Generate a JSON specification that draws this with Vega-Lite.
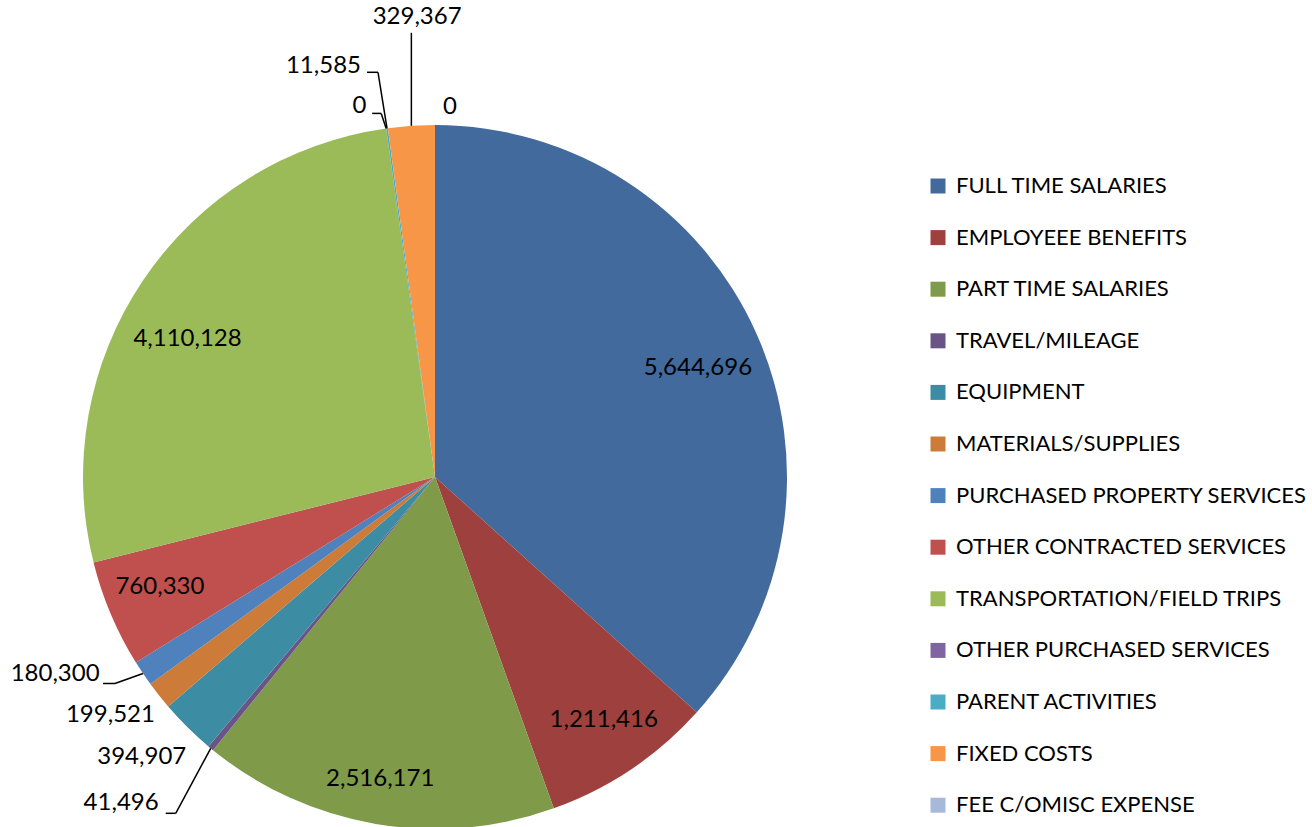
{
  "$schema": "https://vega.github.io/schema/vega-lite/v6.json",
  "width": 870,
  "height": 954,
  "padding": 0,
  "autosize": {"type": "pad"},
  "background": "white",
  "config": {"view": {"stroke": null}, "font": "Lato"},
  "data": {
    "values": [
      {"idx": 1, "category": "FULL TIME SALARIES", "value": 5644696},
      {"idx": 2, "category": "EMPLOYEEE BENEFITS", "value": 1211416},
      {"idx": 3, "category": "PART TIME SALARIES", "value": 2516171},
      {"idx": 4, "category": "TRAVEL/MILEAGE", "value": 41496},
      {"idx": 5, "category": "EQUIPMENT", "value": 394907},
      {"idx": 6, "category": "MATERIALS/SUPPLIES", "value": 199521},
      {"idx": 7, "category": "PURCHASED PROPERTY SERVICES", "value": 180300},
      {"idx": 8, "category": "OTHER CONTRACTED SERVICES", "value": 760330},
      {"idx": 9, "category": "TRANSPORTATION/FIELD TRIPS", "value": 4110128},
      {"idx": 10, "category": "OTHER PURCHASED SERVICES", "value": 0},
      {"idx": 11, "category": "PARENT ACTIVITIES", "value": 11585},
      {"idx": 12, "category": "FIXED COSTS", "value": 329367},
      {"idx": 13, "category": "FEE C/OMISC EXPENSE", "value": 0}
    ]
  },
  "transform": [
    {"joinaggregate": [{"op": "sum", "field": "value", "as": "total"}]},
    {"window": [{"op": "sum", "field": "value", "as": "cum"}], "sort": [{"field": "idx"}], "frame": [null, 0]},
    {"calculate": "2*PI*(datum.cum - datum.value)/datum.total", "as": "t1"},
    {"calculate": "2*PI*datum.cum/datum.total", "as": "t2"},
    {"calculate": "(datum.t1 + datum.t2)/2", "as": "mid"},
    {"calculate": "352*sin(datum.mid)", "as": "ex"},
    {"calculate": "352*cos(datum.mid)", "as": "ey"}
  ],
  "layer": [
    {
      "mark": {"type": "arc", "outerRadius": 352},
      "encoding": {
        "theta": {"field": "t1", "type": "quantitative", "stack": null, "scale": {"domain": [0, 6.283185307179586], "range": [0, 6.283185307179586]}},
        "theta2": {"field": "t2"},
        "color": {
          "field": "category",
          "type": "nominal",
          "scale": {
            "domain": ["FULL TIME SALARIES", "EMPLOYEEE BENEFITS", "PART TIME SALARIES", "TRAVEL/MILEAGE", "EQUIPMENT", "MATERIALS/SUPPLIES", "PURCHASED PROPERTY SERVICES", "OTHER CONTRACTED SERVICES", "TRANSPORTATION/FIELD TRIPS", "OTHER PURCHASED SERVICES", "PARENT ACTIVITIES", "FIXED COSTS", "FEE C/OMISC EXPENSE"],
            "range": ["#426A9C", "#9E413E", "#7F9A48", "#6A5387", "#3C8DA3", "#CC7B38", "#4F81BD", "#C0504D", "#9BBB59", "#8064A2", "#4BACC6", "#F79646", "#A7B9DA"]
          },
          "legend": {
            "orient": "none", "legendX": 927, "legendY": 175, "title": null,
            "symbolType": "square", "symbolSize": 225, "symbolStrokeWidth": 0,
            "labelFont": "Lato", "labelFontSize": 22, "labelColor": "#000000",
            "labelOffset": 7, "rowPadding": 29.6, "padding": 0, "labelLimit": 400
          }
        }
      }
    },
    {
      "transform": [{"filter": "datum.idx === 1"}],
      "mark": {"type": "text", "radius": 290, "dx": -2, "dy": 9, "fontSize": 24, "font": "Lato", "color": "#000000", "align": "center", "baseline": "middle"},
      "encoding": {"theta": {"field": "mid", "type": "quantitative", "stack": null, "scale": {"domain": [0, 6.283185307179586], "range": [0, 6.283185307179586]}}, "text": {"field": "value", "type": "quantitative", "format": ","}}
    },
    {
      "transform": [{"filter": "datum.idx === 2"}],
      "mark": {"type": "text", "radius": 290, "dx": 7, "dy": 2, "fontSize": 24, "font": "Lato", "color": "#000000", "align": "center", "baseline": "middle"},
      "encoding": {"theta": {"field": "mid", "type": "quantitative", "stack": null, "scale": {"domain": [0, 6.283185307179586], "range": [0, 6.283185307179586]}}, "text": {"field": "value", "type": "quantitative", "format": ","}}
    },
    {
      "transform": [{"filter": "datum.idx === 3"}],
      "mark": {"type": "text", "radius": 290, "dx": -6, "dy": 16, "fontSize": 24, "font": "Lato", "color": "#000000", "align": "center", "baseline": "middle"},
      "encoding": {"theta": {"field": "mid", "type": "quantitative", "stack": null, "scale": {"domain": [0, 6.283185307179586], "range": [0, 6.283185307179586]}}, "text": {"field": "value", "type": "quantitative", "format": ","}}
    },
    {
      "transform": [{"filter": "datum.idx === 8"}],
      "mark": {"type": "text", "radius": 290, "dx": -8, "dy": -3, "fontSize": 24, "font": "Lato", "color": "#000000", "align": "center", "baseline": "middle"},
      "encoding": {"theta": {"field": "mid", "type": "quantitative", "stack": null, "scale": {"domain": [0, 6.283185307179586], "range": [0, 6.283185307179586]}}, "text": {"field": "value", "type": "quantitative", "format": ","}}
    },
    {
      "transform": [{"filter": "datum.idx === 9"}],
      "mark": {"type": "text", "radius": 290, "dx": -7, "dy": 24, "fontSize": 24, "font": "Lato", "color": "#000000", "align": "center", "baseline": "middle"},
      "encoding": {"theta": {"field": "mid", "type": "quantitative", "stack": null, "scale": {"domain": [0, 6.283185307179586], "range": [0, 6.283185307179586]}}, "text": {"field": "value", "type": "quantitative", "format": ","}}
    },
    {
      "transform": [{"filter": "datum.idx === 4"}],
      "mark": {"type": "text", "radius": 400, "dx": -59, "dy": 18, "fontSize": 24, "font": "Lato", "color": "#000000", "align": "center", "baseline": "middle"},
      "encoding": {"theta": {"field": "mid", "type": "quantitative", "stack": null, "scale": {"domain": [0, 6.283185307179586], "range": [0, 6.283185307179586]}}, "text": {"field": "value", "type": "quantitative", "format": ","}}
    },
    {
      "transform": [{"filter": "datum.idx === 5"}],
      "mark": {"type": "text", "radius": 400, "dx": -12, "dy": -4, "fontSize": 24, "font": "Lato", "color": "#000000", "align": "center", "baseline": "middle"},
      "encoding": {"theta": {"field": "mid", "type": "quantitative", "stack": null, "scale": {"domain": [0, 6.283185307179586], "range": [0, 6.283185307179586]}}, "text": {"field": "value", "type": "quantitative", "format": ","}}
    },
    {
      "transform": [{"filter": "datum.idx === 6"}],
      "mark": {"type": "text", "radius": 400, "dx": -11, "dy": -10, "fontSize": 24, "font": "Lato", "color": "#000000", "align": "center", "baseline": "middle"},
      "encoding": {"theta": {"field": "mid", "type": "quantitative", "stack": null, "scale": {"domain": [0, 6.283185307179586], "range": [0, 6.283185307179586]}}, "text": {"field": "value", "type": "quantitative", "format": ","}}
    },
    {
      "transform": [{"filter": "datum.idx === 7"}],
      "mark": {"type": "text", "radius": 400, "dx": -48, "dy": -26, "fontSize": 24, "font": "Lato", "color": "#000000", "align": "center", "baseline": "middle"},
      "encoding": {"theta": {"field": "mid", "type": "quantitative", "stack": null, "scale": {"domain": [0, 6.283185307179586], "range": [0, 6.283185307179586]}}, "text": {"field": "value", "type": "quantitative", "format": ","}}
    },
    {
      "transform": [{"filter": "datum.idx === 10"}],
      "mark": {"type": "text", "radius": 400, "dx": -20, "dy": 25, "fontSize": 24, "font": "Lato", "color": "#000000", "align": "center", "baseline": "middle"},
      "encoding": {"theta": {"field": "mid", "type": "quantitative", "stack": null, "scale": {"domain": [0, 6.283185307179586], "range": [0, 6.283185307179586]}}, "text": {"field": "value", "type": "quantitative", "format": ","}}
    },
    {
      "transform": [{"filter": "datum.idx === 11"}],
      "mark": {"type": "text", "radius": 400, "dx": -57, "dy": -15, "fontSize": 24, "font": "Lato", "color": "#000000", "align": "center", "baseline": "middle"},
      "encoding": {"theta": {"field": "mid", "type": "quantitative", "stack": null, "scale": {"domain": [0, 6.283185307179586], "range": [0, 6.283185307179586]}}, "text": {"field": "value", "type": "quantitative", "format": ","}}
    },
    {
      "transform": [{"filter": "datum.idx === 12"}],
      "mark": {"type": "text", "radius": 400, "dx": 9, "dy": -61, "fontSize": 24, "font": "Lato", "color": "#000000", "align": "center", "baseline": "middle"},
      "encoding": {"theta": {"field": "mid", "type": "quantitative", "stack": null, "scale": {"domain": [0, 6.283185307179586], "range": [0, 6.283185307179586]}}, "text": {"field": "value", "type": "quantitative", "format": ","}}
    },
    {
      "transform": [{"filter": "datum.idx === 13"}],
      "mark": {"type": "text", "radius": 400, "dx": 15, "dy": 30, "fontSize": 24, "font": "Lato", "color": "#000000", "align": "center", "baseline": "middle"},
      "encoding": {"theta": {"field": "mid", "type": "quantitative", "stack": null, "scale": {"domain": [0, 6.283185307179586], "range": [0, 6.283185307179586]}}, "text": {"field": "value", "type": "quantitative", "format": ","}}
    },
    {
      "transform": [
        {"filter": "datum.idx === 7"},
        {"calculate": "datum.ex - 28", "as": "ax"},
        {"calculate": "datum.ey - 10", "as": "ay"},
        {"calculate": "datum.ax - 12", "as": "bx"}
      ],
      "layer": [
        {"mark": {"type": "rule", "color": "#000000", "strokeWidth": 1.5},
         "encoding": {"x": {"field": "ex", "type": "quantitative", "scale": {"domain": [-435, 435], "nice": false, "zero": false}, "axis": null}, "y": {"field": "ey", "type": "quantitative", "scale": {"domain": [-477, 477], "nice": false, "zero": false}, "axis": null}, "x2": {"field": "ax"}, "y2": {"field": "ay"}}},
        {"mark": {"type": "rule", "color": "#000000", "strokeWidth": 1.5},
         "encoding": {"x": {"field": "ax", "type": "quantitative", "scale": {"domain": [-435, 435], "nice": false, "zero": false}, "axis": null}, "y": {"field": "ay", "type": "quantitative", "scale": {"domain": [-477, 477], "nice": false, "zero": false}, "axis": null}, "x2": {"field": "bx"}, "y2": {"field": "ay"}}}
      ]
    },
    {
      "transform": [
        {"filter": "datum.idx === 4"},
        {"calculate": "datum.ex - 35", "as": "ax"},
        {"calculate": "datum.ey - 65", "as": "ay"},
        {"calculate": "datum.ax - 10", "as": "bx"}
      ],
      "layer": [
        {"mark": {"type": "rule", "color": "#000000", "strokeWidth": 1.5},
         "encoding": {"x": {"field": "ex", "type": "quantitative", "scale": {"domain": [-435, 435], "nice": false, "zero": false}, "axis": null}, "y": {"field": "ey", "type": "quantitative", "scale": {"domain": [-477, 477], "nice": false, "zero": false}, "axis": null}, "x2": {"field": "ax"}, "y2": {"field": "ay"}}},
        {"mark": {"type": "rule", "color": "#000000", "strokeWidth": 1.5},
         "encoding": {"x": {"field": "ax", "type": "quantitative", "scale": {"domain": [-435, 435], "nice": false, "zero": false}, "axis": null}, "y": {"field": "ay", "type": "quantitative", "scale": {"domain": [-477, 477], "nice": false, "zero": false}, "axis": null}, "x2": {"field": "bx"}, "y2": {"field": "ay"}}}
      ]
    },
    {
      "transform": [
        {"filter": "datum.idx === 11"},
        {"calculate": "datum.ex - 9", "as": "ax"},
        {"calculate": "datum.ey + 56", "as": "ay"},
        {"calculate": "datum.ax - 11", "as": "bx"}
      ],
      "layer": [
        {"mark": {"type": "rule", "color": "#000000", "strokeWidth": 1.5},
         "encoding": {"x": {"field": "ex", "type": "quantitative", "scale": {"domain": [-435, 435], "nice": false, "zero": false}, "axis": null}, "y": {"field": "ey", "type": "quantitative", "scale": {"domain": [-477, 477], "nice": false, "zero": false}, "axis": null}, "x2": {"field": "ax"}, "y2": {"field": "ay"}}},
        {"mark": {"type": "rule", "color": "#000000", "strokeWidth": 1.5},
         "encoding": {"x": {"field": "ax", "type": "quantitative", "scale": {"domain": [-435, 435], "nice": false, "zero": false}, "axis": null}, "y": {"field": "ay", "type": "quantitative", "scale": {"domain": [-477, 477], "nice": false, "zero": false}, "axis": null}, "x2": {"field": "bx"}, "y2": {"field": "ay"}}}
      ]
    },
    {
      "transform": [
        {"filter": "datum.idx === 10"},
        {"calculate": "datum.ex - 5", "as": "ax"},
        {"calculate": "datum.ey + 15", "as": "ay"},
        {"calculate": "datum.ax - 9", "as": "bx"}
      ],
      "layer": [
        {"mark": {"type": "rule", "color": "#000000", "strokeWidth": 1.5},
         "encoding": {"x": {"field": "ex", "type": "quantitative", "scale": {"domain": [-435, 435], "nice": false, "zero": false}, "axis": null}, "y": {"field": "ey", "type": "quantitative", "scale": {"domain": [-477, 477], "nice": false, "zero": false}, "axis": null}, "x2": {"field": "ax"}, "y2": {"field": "ay"}}},
        {"mark": {"type": "rule", "color": "#000000", "strokeWidth": 1.5},
         "encoding": {"x": {"field": "ax", "type": "quantitative", "scale": {"domain": [-435, 435], "nice": false, "zero": false}, "axis": null}, "y": {"field": "ay", "type": "quantitative", "scale": {"domain": [-477, 477], "nice": false, "zero": false}, "axis": null}, "x2": {"field": "bx"}, "y2": {"field": "ay"}}}
      ]
    },
    {
      "transform": [
        {"filter": "datum.idx === 12"},
        {"calculate": "datum.ey + 93", "as": "ay"}
      ],
      "mark": {"type": "rule", "color": "#000000", "strokeWidth": 1.5},
      "encoding": {"x": {"field": "ex", "type": "quantitative", "scale": {"domain": [-435, 435], "nice": false, "zero": false}, "axis": null}, "y": {"field": "ey", "type": "quantitative", "scale": {"domain": [-477, 477], "nice": false, "zero": false}, "axis": null}, "y2": {"field": "ay"}}
    }
  ]
}
